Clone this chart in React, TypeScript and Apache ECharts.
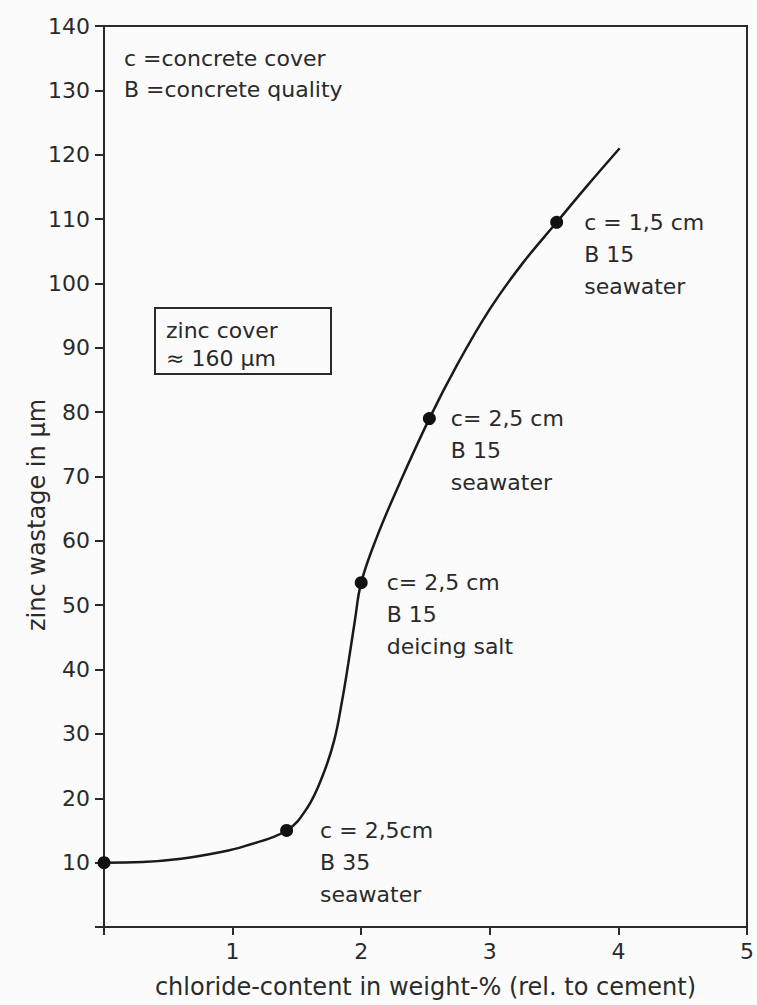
import React, { useEffect, useRef } from "react";
import * as echarts from "echarts";

// Measured points (chloride content %, zinc wastage µm)
const pointX = [0, 1.42, 2.0, 2.53, 3.52];
const pointY = [10, 15, 53.5, 79, 109.5];
const pointLabels = [
  "",
  "c = 2,5cm\nB 35\nseawater",
  "c= 2,5 cm\nB 15\ndeicing salt",
  "c= 2,5 cm\nB 15\nseawater",
  "c = 1,5 cm\nB 15\nseawater",
];

// Curve
const curveX = [0, 0.3, 0.6, 0.9, 1.1, 1.42, 1.58, 1.7, 1.79, 1.85, 1.9, 1.95, 2.0, 2.12, 2.3, 2.53, 2.75, 3.0, 3.25, 3.52, 3.75, 4.01];
const curveY = [10, 10.1, 10.6, 11.6, 12.6, 15, 18.5, 23.5, 29, 35, 41, 47.5, 53.5, 60.5, 69, 79, 87.5, 96, 103, 109.5, 115, 121];

const yTicks = [0, 10, 20, 30, 40, 50, 60, 70, 80, 90, 100, 110, 120, 130, 140];
const xTicks = [0, 1, 2, 3, 4, 5];

const FONT = "DejaVu Sans";
const INK = "#2a2a2a";
const FS = 22;
const NAME_FS = 24;

export default function App() {
  const ref = useRef<HTMLDivElement>(null);
  useEffect(() => {
    if (!ref.current) return;
    const chart = echarts.init(ref.current, null, { renderer: "svg" });
    const labelOffsets = [
      [0, 0],
      [22, 32],
      [14, 32],
      [10, 32],
      [16, 32],
    ];
    chart.setOption({
      animation: false,
      backgroundColor: "#fbfbfb",
      textStyle: { fontFamily: FONT, color: INK },
      grid: {
        left: 104,
        top: 26,
        right: 5,
        bottom: 78,
        show: true,
        borderColor: INK,
        borderWidth: 2,
        backgroundColor: "transparent",
      },
      xAxis: {
        type: "value",
        min: xTicks[0],
        max: xTicks[xTicks.length - 1],
        interval: 1,
        name: "chloride-content in weight-% (rel. to cement)",
        nameLocation: "middle",
        nameGap: 48,
        nameTextStyle: { fontFamily: FONT, fontSize: NAME_FS, color: INK },
        axisLine: { show: true, lineStyle: { color: INK, width: 2 } },
        axisTick: { show: true, inside: false, length: 8, lineStyle: { color: INK, width: 2 } },
        axisLabel: {
          margin: 13,
          fontFamily: FONT,
          fontSize: FS,
          color: INK,
          formatter: (v: number) => (v === 0 ? "" : String(v)),
        },
        splitLine: { show: false },
      },
      yAxis: {
        type: "value",
        min: yTicks[0],
        max: yTicks[yTicks.length - 1],
        interval: 10,
        axisLine: { show: true, lineStyle: { color: INK, width: 2 } },
        axisTick: { show: true, inside: false, length: 9, lineStyle: { color: INK, width: 2 } },
        axisLabel: {
          margin: 14,
          fontFamily: FONT,
          fontSize: FS,
          color: INK,
          formatter: (v: number) => (v === 0 ? "" : String(v)),
        },
        splitLine: { show: false },
      },
      graphic: [
        {
          type: "text",
          x: 37,
          y: 515,
          rotation: Math.PI / 2,
          style: {
            text: "zinc wastage in µm",
            font: `${NAME_FS}px "${FONT}"`,
            fill: INK,
            align: "center",
            verticalAlign: "middle",
          },
        },
        {
          type: "text",
          x: 124,
          y: 43,
          style: {
            text: "c =concrete cover\nB =concrete quality",
            font: `${FS}px "${FONT}"`,
            lineHeight: 31,
            fill: INK,
            align: "left",
            verticalAlign: "top",
          },
        },
        {
          type: "rect",
          shape: { x: 155, y: 308, width: 176, height: 66 },
          style: { fill: "transparent", stroke: INK, lineWidth: 2 },
        },
        {
          type: "text",
          x: 166,
          y: 316,
          style: {
            text: "zinc cover\n≈ 160 µm",
            font: `${FS}px "${FONT}"`,
            lineHeight: 28,
            fill: INK,
            align: "left",
            verticalAlign: "top",
          },
        },
      ],
      series: [
        {
          type: "line",
          data: curveX.map((x, i) => [x, curveY[i]]),
          smooth: 0.4,
          symbol: "none",
          lineStyle: { color: "#1a1a1a", width: 2.5 },
          z: 2,
        },
        {
          type: "scatter",
          label: {
            show: true,
            position: "right",
            align: "left",
            lineHeight: 32,
            fontFamily: FONT,
            fontSize: FS,
            color: INK,
            opacity: 1,
          },
          data: pointX.map((x, i) => ({
            value: [x, pointY[i]],
            label: {
              show: pointLabels[i] !== "",
              formatter: pointLabels[i],
              offset: labelOffsets[i],
              color: INK,
            },
          })),
          symbol: "circle",
          symbolSize: 13,
          itemStyle: { color: "#111", opacity: 1 },
          emphasis: { disabled: true },
          z: 3,
        },
      ],
    });
    return () => chart.dispose();
  }, []);
  return (
    <div
      ref={ref}
      style={{ position: "absolute", left: 0, top: 0, width: 757, height: 1005 }}
    />
  );
}
